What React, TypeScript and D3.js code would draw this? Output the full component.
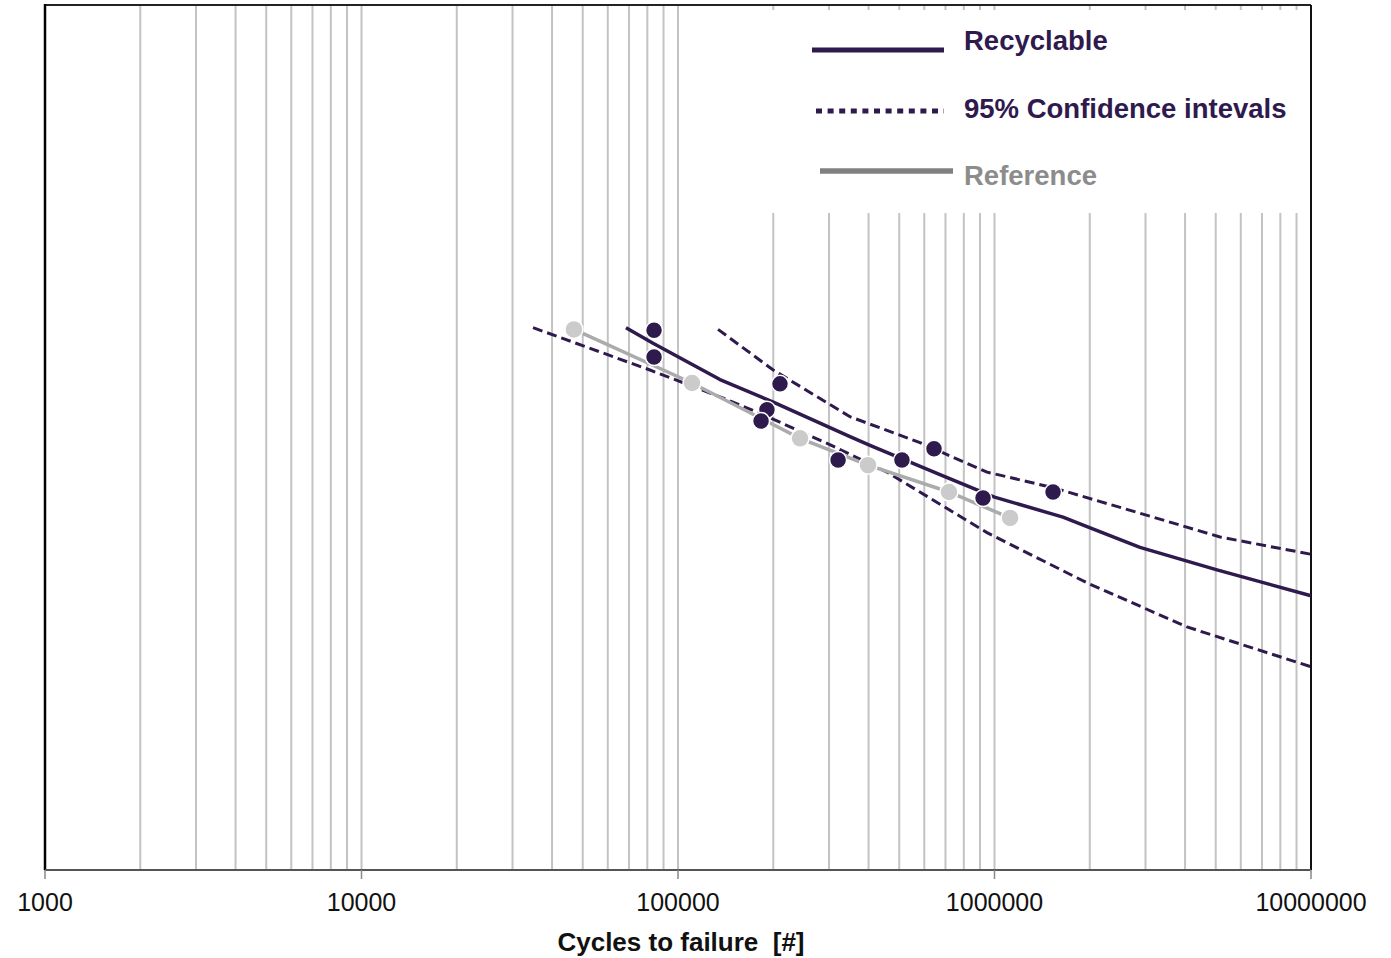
import * as d3 from "d3";

// Cycles to failure vs stress (y units are arbitrary, axis has no labels)
const recyclableN = [84000, 84000, 210000, 191000, 183000, 320500, 510000, 644000, 920000, 1531000];
const recyclableS = [62.4, 59.3, 56.2, 53.2, 51.9, 47.4, 47.4, 48.7, 43.0, 43.7];

const referenceN = [46900, 110700, 243000, 398500, 718000, 1120000];
const referenceS = [62.5, 56.3, 49.9, 46.8, 43.7, 40.7];

const meanN = [68500, 83400, 135700, 200000, 349500, 404200, 672600, 1000000, 1646000, 1960000, 2882000, 5047000, 10000000];
const meanS = [62.7, 60.9, 56.7, 54.1, 50.1, 49.1, 45.7, 43.1, 40.8, 39.7, 37.3, 34.7, 31.7];

const upperN = [133800, 200000, 349500, 581700, 947000, 1531000, 3168000, 5158000, 10000000];
const upperS = [62.5, 57.8, 52.4, 49.4, 46.0, 44.2, 40.8, 38.5, 36.5];

const lowerN = [34830, 81560, 135700, 181600, 308900, 457500, 947000, 1960000, 4057000, 10000000];
const lowerS = [62.7, 57.8, 54.7, 52.8, 49.0, 46.0, 39.0, 33.2, 28.1, 23.5];

const xTicks = [1000, 10000, 100000, 1000000, 10000000];

const legendItems = ["Recyclable", "95% Confidence intevals", "Reference"];

const PURPLE = "#2f1a4e";
const FONT = "'Liberation Sans', Arial, sans-serif";

const zip = (n: number[], s: number[]) => n.map((v, i) => ({ n: v, s: s[i] }));

export default function App() {
  const width = 1391;
  const height = 958;
  const left = 45, right = 1311, top = 5, bottom = 870;

  const x = d3.scaleLog().domain([1000, 10000000]).range([left, right]);
  const y = d3.scaleLinear().domain([0, 100]).range([bottom, top]);

  const line = d3.line<{ n: number; s: number }>()
    .x(d => x(d.n))
    .y(d => y(d.s));

  // minor + major grid lines
  const grid: number[] = [];
  for (let k = 3; k < 7; k++) {
    for (let m = 1; m < 10; m++) grid.push(m * Math.pow(10, k));
  }

  const refSorted = zip(referenceN, referenceS).sort((a, b) => a.n - b.n);

  return (
    <svg width={width} height={height} style={{ position: "absolute", left: 0, top: 0, background: "#fff" }}>
      {grid.map(g => (
        <line key={g} x1={x(g)} x2={x(g)} y1={top} y2={bottom} stroke="#c3c3c3" strokeWidth={2} />
      ))}

      {/* legend background */}
      <rect x={766} y={10} width={543} height={203} fill="#fff" />

      {/* frame */}
      <line x1={left} x2={right} y1={top} y2={top} stroke="#222" strokeWidth={2} />
      <line x1={right} x2={right} y1={top} y2={bottom} stroke="#111" strokeWidth={2} />
      <line x1={left} x2={left} y1={top - 1} y2={bottom} stroke="#000" strokeWidth={2.5} />
      <line x1={left} x2={right} y1={bottom} y2={bottom} stroke="#555" strokeWidth={2} />

      {xTicks.map(t => (
        <g key={t}>
          <line x1={x(t)} x2={x(t)} y1={bottom} y2={bottom + 9} stroke="#888" strokeWidth={1.5} />
          <text x={x(t)} y={911} textAnchor="middle" fontFamily={FONT} fontSize={25} fill="#111">{t}</text>
        </g>
      ))}
      <text x={681} y={951} textAnchor="middle" fontFamily={FONT} fontSize={26} fontWeight="bold" fill="#111"
        style={{ whiteSpace: "pre" }}>
        {"Cycles to failure  [#]"}
      </text>

      {/* confidence bands */}
      <path d={line(zip(upperN, upperS)) ?? ""} fill="none" stroke={PURPLE} strokeWidth={3} strokeDasharray="10 5" />
      <path d={line(zip(lowerN, lowerS)) ?? ""} fill="none" stroke={PURPLE} strokeWidth={3} strokeDasharray="10 5" />
      {/* mean curve */}
      <path d={line(zip(meanN, meanS)) ?? ""} fill="none" stroke={PURPLE} strokeWidth={3.5} strokeLinejoin="round" />
      {/* reference */}
      <path d={line(refSorted) ?? ""} fill="none" stroke="#ababab" strokeWidth={3.5} />
      {refSorted.map((d, i) => (
        <circle key={"r" + i} cx={x(d.n)} cy={y(d.s)} r={9} fill="#cbcbcb" stroke="#fff" strokeWidth={1.5} />
      ))}
      {zip(recyclableN, recyclableS).map((d, i) => (
        <circle key={"p" + i} cx={x(d.n)} cy={y(d.s)} r={8.5} fill={PURPLE} stroke="#fff" strokeWidth={1.5} />
      ))}

      {/* legend */}
      <line x1={812} x2={944} y1={50} y2={50} stroke={PURPLE} strokeWidth={5} />
      <line x1={816} x2={944} y1={111} y2={111} stroke={PURPLE} strokeWidth={5} strokeDasharray="6 5.6" />
      <line x1={820} x2={953} y1={171} y2={171} stroke="#808080" strokeWidth={5.5} />
      {legendItems.map((t, i) => (
        <text key={t} x={964} y={[50, 118, 185][i]} fontFamily={FONT} fontSize={27.5} fontWeight="bold"
          fill={i === 2 ? "#8c8c8c" : PURPLE}>{t}</text>
      ))}
    </svg>
  );
}
